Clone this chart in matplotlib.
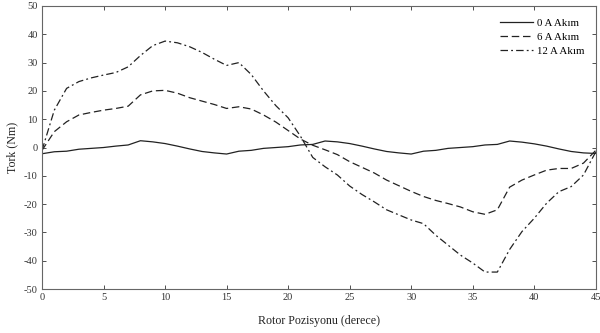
import matplotlib
matplotlib.use("Agg")
import matplotlib.pyplot as plt

plt.rcParams.update({
    "font.family": "Liberation Serif",
    "font.size": 7.5,
    "axes.unicode_minus": False,
    "xtick.direction": "in",
    "ytick.direction": "in",
    "xtick.top": True,
    "ytick.right": True,
})

# rotor position in degrees
pos = list(range(0, 46))

torque_0a = [-2.2, -1.5, -1.3, -0.6, -0.3, 0.0, 0.5, 0.9, 2.4, 2.0, 1.4, 0.5,
             -0.5, -1.4, -1.9, -2.3, -1.3, -1.0, -0.3, 0.0, 0.3, 0.9, 1.1, 2.3,
             2.0, 1.4, 0.5, -0.5, -1.4, -1.9, -2.3, -1.3, -1.0, -0.3, 0.0, 0.3,
             0.9, 1.1, 2.3, 1.9, 1.3, 0.5, -0.5, -1.4, -1.9, -2.1]
torque_6a = [-1.0, 5.6, 9.1, 11.5, 12.4, 13.2, 13.8, 14.6, 18.6, 20.0, 20.2, 19.2,
             17.6, 16.4, 15.2, 13.8, 14.4, 13.6, 11.5, 9.0, 6.0, 3.0, 0.8, -0.8,
             -2.5, -5.0, -7.0, -9.0, -11.5, -13.5, -15.5, -17.3, -18.7, -19.8, -21.0, -22.7,
             -23.6, -22.0, -14.0, -11.5, -9.7, -8.0, -7.4, -7.4, -5.5, -1.0]
torque_12a = [-1.0, 13.2, 20.9, 23.3, 24.6, 25.6, 26.5, 28.5, 32.5, 36.0, 37.6, 37.0,
              35.6, 33.6, 31.2, 29.0, 30.0, 25.8, 20.0, 14.8, 10.5, 4.0, -3.5, -6.8,
              -9.7, -13.6, -16.6, -19.2, -22.0, -23.8, -25.6, -26.9, -31.0, -34.5, -38.0, -40.8,
              -44.0, -44.0, -36.0, -29.7, -25.0, -19.7, -15.6, -13.8, -9.7, -1.5]

labels = ["0 A Akım", "6 A Akım", "12 A Akım"]

fig = plt.figure(figsize=(6, 3.33), dpi=100)
ax = fig.add_axes([0.07, 0.132, 0.923, 0.85])

ax.plot(pos, torque_0a, color="#222222", linestyle="-", linewidth=0.9, label=labels[0])
ax.plot(pos, torque_6a, color="#222222", linestyle=(0, (6, 3)), linewidth=0.9, label=labels[1])
ax.plot(pos, torque_12a, color="#222222", linestyle=(0, (6, 2.5, 1.5, 2.5)), linewidth=0.9, label=labels[2])

ax.set_xlim(0, 45)
ax.set_ylim(-50, 50)
ax.set_xticks(range(0, 46, 5))
ax.set_yticks(range(-50, 51, 10))
ax.tick_params(length=3, width=0.6, colors="#333333", labelcolor="#333333", pad=3)
for s in ax.spines.values():
    s.set_linewidth(0.8)
    s.set_color("#666666")

ax.set_xlabel("Rotor Pozisyonu (derece)", fontsize=8.6, color="#222222", labelpad=9)
ax.set_ylabel("Tork (Nm)", fontsize=8.6, color="#222222", labelpad=4)

ax.legend(loc="upper right", bbox_to_anchor=(0.997, 0.99), frameon=False, fontsize=7.8,
          handlelength=3.0, handletextpad=0.4, labelspacing=0.38)

fig.savefig("out.png", dpi=100)
